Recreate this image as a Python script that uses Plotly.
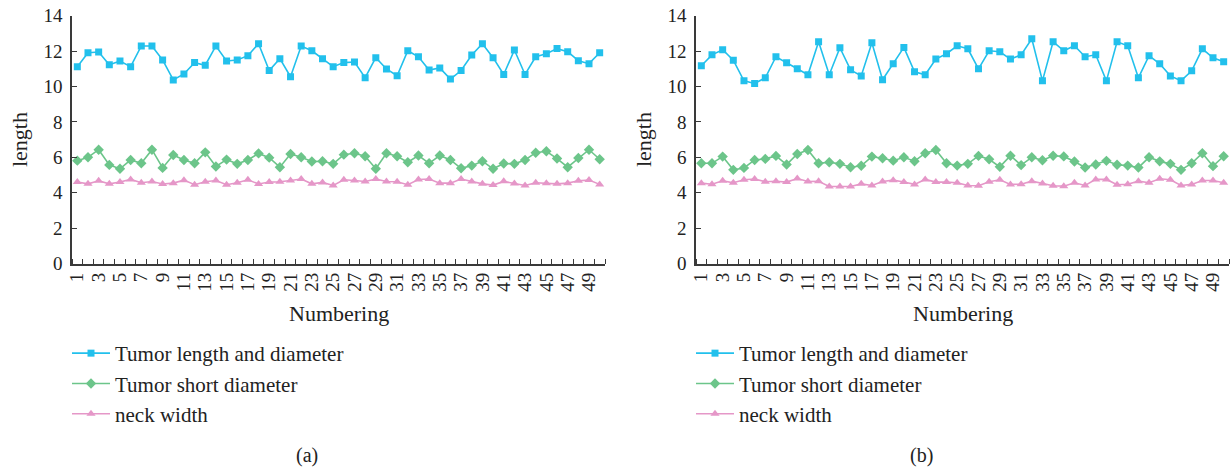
import plotly.graph_objects as go

numbering = list(range(1, 51))

# Panel (a)
a_long = [11.12, 11.91, 11.95, 11.23, 11.44, 11.12, 12.29, 12.29, 11.50, 10.37,
          10.71, 11.35, 11.20, 12.29, 11.44, 11.50, 11.74, 12.42, 10.90, 11.57,
          10.55, 12.29, 12.02, 11.57, 11.12, 11.35, 11.38, 10.50, 11.63, 10.99,
          10.61, 12.02, 11.68, 10.93, 11.05, 10.42, 10.90, 11.78, 12.42, 11.63,
          10.68, 12.06, 10.68, 11.68, 11.85, 12.14, 11.97, 11.46, 11.29, 11.91]
a_short = [5.81, 6.00, 6.43, 5.57, 5.35, 5.85, 5.66, 6.43, 5.40, 6.13,
           5.85, 5.66, 6.28, 5.48, 5.87, 5.63, 5.85, 6.22, 5.98, 5.44,
           6.19, 6.00, 5.76, 5.78, 5.63, 6.15, 6.23, 6.06, 5.35, 6.23,
           6.06, 5.72, 6.10, 5.66, 6.10, 5.85, 5.38, 5.53, 5.78, 5.35,
           5.65, 5.63, 5.85, 6.26, 6.34, 5.93, 5.44, 5.96, 6.43, 5.89]
a_neck = [4.60, 4.50, 4.67, 4.50, 4.60, 4.75, 4.56, 4.63, 4.49, 4.54,
          4.71, 4.45, 4.62, 4.69, 4.45, 4.56, 4.73, 4.49, 4.60, 4.62,
          4.69, 4.77, 4.50, 4.58, 4.41, 4.73, 4.69, 4.63, 4.77, 4.63,
          4.62, 4.45, 4.75, 4.77, 4.54, 4.54, 4.77, 4.63, 4.50, 4.43,
          4.64, 4.52, 4.41, 4.56, 4.53, 4.50, 4.54, 4.67, 4.72, 4.47]

# Panel (b)
b_long = [11.17, 11.79, 12.08, 11.49, 10.32, 10.17, 10.49, 11.68, 11.34, 11.00,
          10.66, 12.53, 10.66, 12.19, 10.94, 10.60, 12.47, 10.38, 11.28, 12.21,
          10.83, 10.66, 11.55, 11.85, 12.30, 12.13, 11.00, 12.02, 11.96, 11.55,
          11.79, 12.70, 10.32, 12.53, 12.02, 12.30, 11.68, 11.79, 10.32, 12.53,
          12.30, 10.49, 11.74, 11.28, 10.60, 10.32, 10.89, 12.13, 11.62, 11.40]
b_short = [5.66, 5.66, 6.04, 5.29, 5.40, 5.85, 5.91, 6.08, 5.59, 6.19,
           6.41, 5.66, 5.72, 5.63, 5.44, 5.52, 6.04, 5.95, 5.81, 6.00,
           5.78, 6.23, 6.41, 5.66, 5.53, 5.63, 6.08, 5.89, 5.46, 6.09,
           5.56, 6.00, 5.83, 6.09, 6.05, 5.76, 5.42, 5.59, 5.80, 5.58,
           5.53, 5.42, 6.00, 5.77, 5.63, 5.29, 5.66, 6.23, 5.50, 6.06]
b_neck = [4.54, 4.48, 4.67, 4.56, 4.73, 4.77, 4.62, 4.65, 4.60, 4.80,
          4.63, 4.65, 4.35, 4.35, 4.35, 4.50, 4.41, 4.63, 4.71, 4.60,
          4.47, 4.75, 4.60, 4.60, 4.56, 4.41, 4.39, 4.62, 4.73, 4.47,
          4.48, 4.65, 4.52, 4.39, 4.37, 4.56, 4.41, 4.75, 4.75, 4.45,
          4.48, 4.65, 4.56, 4.79, 4.73, 4.41, 4.47, 4.69, 4.69, 4.56]

series_names = ["Tumor length and diameter", "Tumor short diameter", "neck width"]
y_ticks = [0, 2, 4, 6, 8, 10, 12, 14]
x_tickvals = [n for n in numbering if n % 2 == 1]

colors = ["#22C0EC", "#6CC58A", "#E597C8"]
symbols = ["square", "diamond", "triangle-up"]
msizes = [7, 8, 8]
FONT = "Liberation Serif"
W, H = 1230, 468

fig = go.Figure()
panels = [
    ("x", "y", "legend", [a_long, a_short, a_neck]),
    ("x2", "y2", "legend2", [b_long, b_short, b_neck]),
]
for xa, ya, lg, data in panels:
    for name, vals, c, s, ms in zip(series_names, data, colors, symbols, msizes):
        fig.add_trace(go.Scatter(
            x=numbering, y=vals, name=name, mode="lines+markers",
            line=dict(color=c, width=1.6),
            marker=dict(symbol=s, size=ms, color=c),
            xaxis=xa, yaxis=ya, legend=lg, showlegend=True,
        ))

ydom = [(H - 263.5) / H, (H - 15.7) / H]
xdoms = [[72 / W, 605 / W], [696 / W, 1229 / W]]

axis_common_x = dict(
    range=[0.5, 50.5], showline=True, linecolor="#3a3a3a", linewidth=1.5,
    showgrid=False, zeroline=False, tickmode="array", tickvals=x_tickvals,
    ticktext=[str(v) for v in x_tickvals], tickangle=-90, ticks="",
    automargin=False,
    tickfont=dict(family=FONT, size=19, color="#222"),
    minor=dict(ticks="inside", tick0=0.5, dtick=1, ticklen=5, tickcolor="#3a3a3a", tickwidth=1.2),
)
axis_common_y = dict(
    range=[0, 14], showline=True, linecolor="#3a3a3a", linewidth=1.5,
    showgrid=False, zeroline=False, tickmode="array", tickvals=y_ticks,
    automargin=False,
    ticks="inside", ticklen=5, tickcolor="#3a3a3a", tickwidth=1.2,
    tickfont=dict(family=FONT, size=19, color="#222"), ticklabelstandoff=4,
)

legend_common = dict(xanchor="left", yanchor="top",
                     font=dict(family=FONT, size=21, color="#222"),
                     bgcolor="rgba(0,0,0,0)", itemwidth=38, tracegroupgap=0)

fig.update_layout(
    width=W, height=H, margin=dict(l=0, r=0, t=0, b=0, autoexpand=False),
    paper_bgcolor="white", plot_bgcolor="white",
    font=dict(family=FONT, color="#222"),
    xaxis=dict(domain=xdoms[0], anchor="y", **axis_common_x),
    yaxis=dict(domain=ydom, anchor="x", **axis_common_y),
    xaxis2=dict(domain=xdoms[1], anchor="y2", **axis_common_x),
    yaxis2=dict(domain=ydom, anchor="x2", **axis_common_y),
    legend=dict(x=67 / W, y=(H - 333) / H, **legend_common),
    legend2=dict(x=691 / W, y=(H - 333) / H, **legend_common),
)

annos = []
for i, (x0, x1) in enumerate(xdoms):
    annos.append(dict(text="length", x=(x0 * W - 52.5) / W, y=(H - 139.6) / H,
                      xref="paper", yref="paper", showarrow=False, textangle=-90,
                      font=dict(family=FONT, size=22, color="#222"),
                      xanchor="center", yanchor="middle"))
    annos.append(dict(text="Numbering", x=(x0 + x1) / 2, y=(H - 313) / H,
                      xref="paper", yref="paper", showarrow=False,
                      font=dict(family=FONT, size=22, color="#222"),
                      xanchor="center", yanchor="middle"))
annos.append(dict(text="(a)", x=307 / W, y=(H - 455) / H, xref="paper", yref="paper",
                  showarrow=False, font=dict(family=FONT, size=20, color="#222"),
                  xanchor="center", yanchor="middle"))
annos.append(dict(text="(b)", x=921 / W, y=(H - 455) / H, xref="paper", yref="paper",
                  showarrow=False, font=dict(family=FONT, size=20, color="#222"),
                  xanchor="center", yanchor="middle"))
fig.update_layout(annotations=annos)

fig.write_html("out.html", config={"displayModeBar": False},
               post_script="document.body.style.margin='0';document.body.style.overflow='hidden';")
